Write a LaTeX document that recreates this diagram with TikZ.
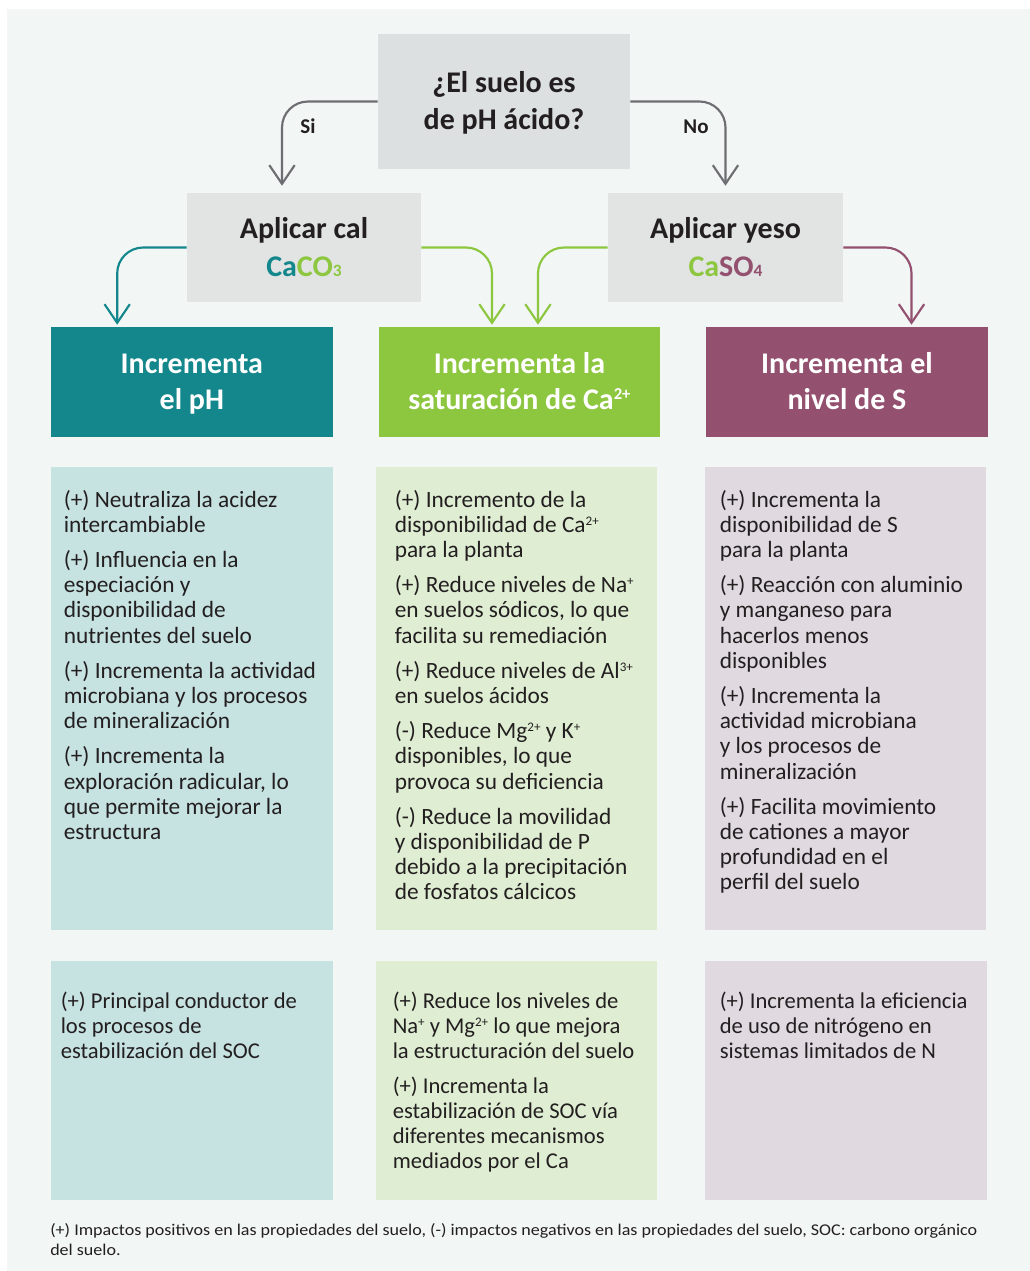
\documentclass[tikz,border=0pt]{standalone}
\usepackage{fontspec}
\setmainfont{Carlito}
\newfontfamily\footfont[FakeStretch=1.1]{Carlito}
\usetikzlibrary{arrows.meta}
\definecolor{bgc}{HTML}{F2F6F5}
\definecolor{grayt}{HTML}{DCE0E0}
\definecolor{grayb}{HTML}{E1E4E3}
\definecolor{ink}{HTML}{231F20}
\definecolor{arrg}{HTML}{6D6E71}
\definecolor{tealc}{HTML}{13878B}
\definecolor{greenc}{HTML}{8DC63F}
\definecolor{purpc}{HTML}{93506F}
\definecolor{ltealc}{HTML}{C6E2E1}
\definecolor{lgreenc}{HTML}{DFEED3}
\definecolor{lpurpc}{HTML}{E0DAE0}
\newcommand\chemsub[1]{{\fontsize{13pt}{13pt}\selectfont #1}}
\newcommand\supb[1]{\raisebox{5.2pt}{\fontsize{9.8pt}{10pt}\selectfont #1}}
\newcommand\suph[1]{\raisebox{7pt}{\fontsize{12.5pt}{13pt}\selectfont #1}}
\newcommand\topline[1]{\rule{0pt}{20pt}#1}
\begin{document}
\begin{tikzpicture}[x=0.75pt,y=-0.75pt,
  gbox/.style={fill=grayb, text=ink, font=\bfseries\fontsize{22.5pt}{28.5pt}\selectfont, align=center, inner sep=0pt},
  hbox/.style={text=white, font=\bfseries\fontsize{22.5pt}{27.2pt}\selectfont, align=center, inner sep=0pt, minimum width=211.3pt, minimum height=82.5pt},
  cbox/.style={inner sep=0pt, minimum width=211.1pt, minimum height=347pt},
  bbox/.style={inner sep=0pt, minimum width=211.1pt, minimum height=179.25pt},
  body/.style={anchor=north west, inner sep=0pt, align=left, text=ink, font=\fontsize{17.5pt}{18.9pt}\selectfont},
  bodysm/.style={body, font=\fontsize{16.95pt}{18.75pt}\selectfont},
  lbl/.style={anchor=base, inner sep=0pt, text=ink, font=\bfseries\fontsize{15.75pt}{18pt}\selectfont},
  arr/.style={line width=1.6pt, rounded corners=19.5pt, -{Straight Barb[length=14pt,width=19pt,line width=1.6pt]}}
]
\useasboundingbox (0,0) rectangle (1030,1271);
\fill[white] (0,0) rectangle (1030,1271);
\fill[bgc] (7,9) rectangle (1030,1271);

% decision and treatments
\node[gbox, fill=grayt, minimum width=189pt, minimum height=101.25pt, font=\bfseries\fontsize{22.5pt}{27.45pt}\selectfont] (q) at (504,101.5) {\topline{¿El suelo es}\\de pH ácido?\rule[-5.8pt]{0pt}{0pt}};
\node[gbox, minimum width=175.5pt, minimum height=81.75pt] (cal) at (304,247.5) {\topline{Aplicar cal}\\{\color{tealc}Ca}{\color{greenc}CO\chemsub{3}}\rule[-5.7pt]{0pt}{0pt}};
\node[gbox, minimum width=176.25pt, minimum height=81.75pt] (yeso) at (725.5,247.5) {\topline{Aplicar yeso}\\{\color{greenc}Ca}{\color{purpc}SO\chemsub{4}}\rule[-5.7pt]{0pt}{0pt}};

% headers
\node[hbox, fill=tealc] (hph) at (191.85,382) {\topline{Incrementa}\\el pH\rule[-6.3pt]{0pt}{0pt}};
\node[hbox, fill=greenc] (hca) at (519.45,382) {\topline{Incrementa la}\\saturación de Ca\suph{2+}\rule[-6.3pt]{0pt}{0pt}};
\node[hbox, fill=purpc] (hs) at (847,382) {\topline{Incrementa el}\\nivel de S\rule[-6.3pt]{0pt}{0pt}};

% content boxes
\node[cbox, fill=ltealc] (cph) at (191.85,698.65) {};
\node[cbox, fill=lgreenc] (cca) at (516.5,698.65) {};
\node[cbox, fill=lpurpc] (cs) at (845.7,698.65) {};
\node[bbox, fill=ltealc] (bph) at (191.85,1080.5) {};
\node[bbox, fill=lgreenc] (bca) at (516.5,1080.5) {};
\node[bbox, fill=lpurpc] (bs) at (845.85,1080.5) {};

% arrows
\draw[arr, draw=arrg, shorten >=5.25pt] (q.west) -| ([xshift=-16.5pt]cal.north);
\draw[arr, draw=arrg, shorten >=5.25pt] (q.east) -| (yeso.north);
\node[lbl] (si) at (308,133.3) {Si};
\node[lbl] (no) at (696,133.3) {No};
\draw[arr, draw=tealc, shorten >=1.5pt] (cal.west) -| ([xshift=-56pt]hph.north);
\draw[arr, draw=greenc, shorten >=1.5pt] (cal.east) -| ([xshift=-20.6pt]hca.north);
\draw[arr, draw=greenc, shorten >=1.5pt] (yeso.west) -| ([xshift=13.9pt]hca.north);
\draw[arr, draw=purpc, shorten >=1.5pt] (yeso.east) -| ([xshift=48.4pt]hs.north);

% texts
\node[body] (tph) at (63.5,485.4) {\rule{0pt}{16pt}(+) Neutraliza la acidez\\intercambiable\\[7.5pt](+) Influencia en la\\especiación y\\disponibilidad de\\nutrientes del suelo\\[7.5pt](+) Incrementa la actividad\\microbiana y los procesos\\de mineralización\\[7.5pt](+) Incrementa la\\exploración radicular, lo\\que permite mejorar la\\estructura};
\node[body] (tca) at (394.5,485.4) {\rule{0pt}{16pt}(+) Incremento de la\\disponibilidad de Ca\supb{2+}\\para la planta\\[7.5pt](+) Reduce niveles de Na\supb{+}\\en suelos sódicos, lo que\\facilita su remediación\\[7.5pt](+) Reduce niveles de Al\supb{3+}\\en suelos ácidos\\[7.5pt](-) Reduce Mg\supb{2+} y K\supb{+}\\disponibles, lo que\\provoca su deficiencia\\[7.5pt](-) Reduce la movilidad\\y disponibilidad de P\\debido a la precipitación\\de fosfatos cálcicos};
\node[body] (ts) at (719.5,485.4) {\rule{0pt}{16pt}(+) Incrementa la\\disponibilidad de S\\para la planta\\[7.5pt](+) Reacción con aluminio\\y manganeso para\\hacerlos menos\\disponibles\\[7.5pt](+) Incrementa la\\actividad microbiana\\y los procesos de\\mineralización\\[7.5pt](+) Facilita movimiento\\de cationes a mayor\\profundidad en el\\perfil del suelo};
\node[bodysm] (uph) at (60.5,986.4) {\rule{0pt}{16pt}(+) Principal conductor de\\los procesos de\\estabilización del SOC};
\node[bodysm] (uca) at (392.5,986.4) {\rule{0pt}{16pt}(+) Reduce los niveles de\\Na\supb{+} y Mg\supb{2+} lo que mejora\\la estructuración del suelo\\[7.5pt](+) Incrementa la\\estabilización de SOC vía\\diferentes mecanismos\\mediados por el Ca};
\node[bodysm] (us) at (719.5,986.4) {\rule{0pt}{16pt}(+) Incrementa la eficiencia\\de uso de nitrógeno en\\sistemas limitados de N};

% footnote
\node[anchor=north west, inner sep=0pt, align=left, text=ink, font=\footfont\fontsize{12.3pt}{15.4pt}\selectfont] (foot) at (50,1219) {\rule{0pt}{12pt}(+) Impactos positivos en las propiedades del suelo, (-) impactos negativos en las propiedades del suelo, SOC: carbono orgánico\\del suelo.};
\end{tikzpicture}
\end{document}
